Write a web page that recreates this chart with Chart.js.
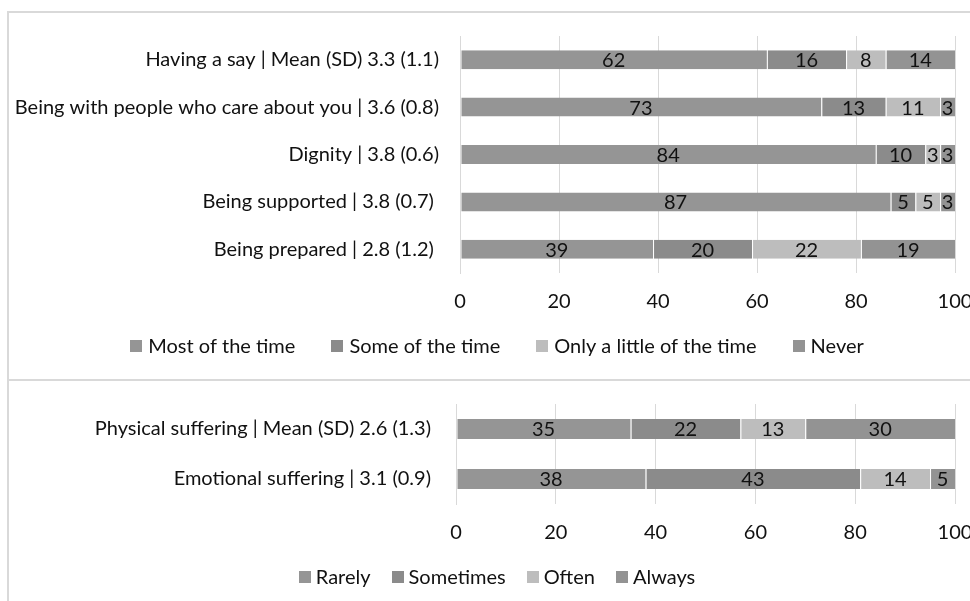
<!DOCTYPE html>
<html><head><meta charset="utf-8">
<script src="https://cdn.jsdelivr.net/npm/chart.js@4.4.1/dist/chart.umd.min.js"></script>
<style>
html,body{margin:0;padding:0;background:#fff;width:970px;height:601px;overflow:hidden;}
#box1{position:absolute;left:7px;top:11px;width:963px;height:368px;border-top:2px solid #d9d9d9;border-left:2px solid #d9d9d9;box-sizing:border-box;}
#box2{position:absolute;left:7px;top:379px;width:963px;height:222px;border-top:2px solid #d9d9d9;border-left:2px solid #d9d9d9;box-sizing:border-box;}
#c1,#c2{display:block;}
</style>
</head><body>
<div id="box1"><canvas id="c1"></canvas></div>
<div id="box2"><canvas id="c2"></canvas></div>
<script>
// ---- data ----
const topCategories = [
  'Having a say | Mean (SD) 3.3 (1.1)',
  'Being with people who care about you | 3.6 (0.8)',
  'Dignity | 3.8 (0.6)',
  'Being supported | 3.8 (0.7) ',
  'Being prepared | 2.8 (1.2) '
];
const topSeriesNames = ['Most of the time', 'Some of the time', 'Only a little of the time', 'Never'];
const mostOfTheTime = [62, 73, 84, 87, 39];
const someOfTheTime = [16, 13, 10, 5, 20];
const onlyALittle   = [8, 11, 3, 5, 22];
const never         = [14, 3, 3, 3, 19];

const bottomCategories = [
  'Physical suffering | Mean (SD) 2.6 (1.3)',
  'Emotional suffering | 3.1 (0.9)'
];
const bottomSeriesNames = ['Rarely', 'Sometimes', 'Often', 'Always'];
const rarely    = [35, 38];
const sometimes = [22, 43];
const often     = [13, 14];
const always    = [30, 5];

const xTicks = [0, 20, 40, 60, 80, 100];

// ---- styling ----
const FONT = 'Lato';
const FS = 20;
const TEXT = '#111111';
const GRID = '#d9d9d9';
const colors = ['#959595', '#8b8b8b', '#bdbdbd', '#939393'];

Chart.defaults.font.family = FONT;
Chart.defaults.font.size = FS;
Chart.defaults.color = TEXT;
Chart.defaults.animation = false;

function zeroPad(scale) {
  scale.paddingTop = 0; scale.paddingBottom = 0;
  scale.paddingLeft = 0; scale.paddingRight = 0;
}

const dataLabelPlugin = {
  id: 'segLabels',
  afterDatasetsDraw(chart) {
    const ctx = chart.ctx;
    ctx.save();
    ctx.font = FS + 'px ' + FONT;
    ctx.fillStyle = TEXT;
    ctx.textAlign = 'center';
    ctx.textBaseline = 'middle';
    chart.data.datasets.forEach((ds, di) => {
      const meta = chart.getDatasetMeta(di);
      meta.data.forEach((bar, i) => {
        const v = ds.data[i];
        const cx = (bar.x + bar.base) / 2;
        ctx.fillText(String(v), cx, bar.y + 1);
      });
    });
    ctx.restore();
  }
};

function legendPlugin(cfg) {
  return {
    id: 'customLegend',
    afterDraw(chart) {
      const ctx = chart.ctx;
      ctx.save();
      ctx.font = FS + 'px ' + FONT;
      ctx.textBaseline = 'middle';
      ctx.textAlign = 'left';
      const items = chart.data.datasets.map(ds => ({
        text: ds.label, color: ds.backgroundColor,
        w: cfg.box + cfg.boxGap + ctx.measureText(ds.label).width
      }));
      const total = items.reduce((s, it) => s + it.w, 0) + cfg.itemGap * (items.length - 1);
      let x = cfg.centerX - total / 2;
      items.forEach(it => {
        ctx.fillStyle = it.color;
        ctx.fillRect(Math.round(x), Math.round(cfg.y - cfg.box / 2), cfg.box, cfg.box);
        ctx.fillStyle = TEXT;
        ctx.fillText(it.text, x + cfg.box + cfg.boxGap, cfg.y + 1);
        x += it.w + cfg.itemGap;
      });
      ctx.restore();
    }
  };
}

function makeChart(id, w, h, cats, names, series, opt) {
  const canvas = document.getElementById(id);
  canvas.width = w; canvas.height = h;
  canvas.style.width = w + 'px'; canvas.style.height = h + 'px';
  return new Chart(canvas, {
    type: 'bar',
    data: {
      labels: cats,
      datasets: series.map((d, i) => ({
        label: names[i],
        data: d,
        backgroundColor: colors[i],
        borderColor: 'rgba(255,255,255,0.18)',
        borderWidth: {left: 1, right: 0, top: 0, bottom: 0},
        borderSkipped: false,
        barPercentage: 0.4,
        categoryPercentage: 1.0
      }))
    },
    options: {
      indexAxis: 'y',
      responsive: false,
      maintainAspectRatio: false,
      devicePixelRatio: 1,
      layout: { padding: { top: opt.padTop, right: opt.padRight, bottom: opt.padBottom, left: 0 } },
      plugins: { legend: { display: false }, tooltip: { enabled: false } },
      scales: {
        x: {
          stacked: true,
          min: 0, max: 100,
          afterBuildTicks(scale) { scale.ticks = xTicks.map(v => ({ value: v })); },
          afterFit(scale) { scale.height = opt.xH; zeroPad(scale); },
          grid: { color: GRID, lineWidth: 1, drawTicks: false },
          border: { display: false },
          ticks: { padding: opt.xPad, color: TEXT, maxRotation: 0, font: { size: FS, family: FONT } }
        },
        y: {
          stacked: true,
          grid: { display: false, drawTicks: false },
          border: { display: true, color: GRID, width: 1 },
          afterFit(scale) { scale.width = opt.yWidth; zeroPad(scale); },
          ticks: { padding: opt.yPad, color: TEXT, font: { size: FS, family: FONT } }
        }
      }
    },
    plugins: [dataLabelPlugin, legendPlugin(opt.legend)]
  });
}

makeChart('c1', 961, 366, topCategories, topSeriesNames,
  [mostOfTheTime, someOfTheTime, onlyALittle, never],
  { padTop: 23, padRight: 15, padBottom: 67, xH: 39, xPad: 17, yWidth: 451, yPad: 21,
    legend: { centerX: 488, y: 333, box: 12, boxGap: 6, itemGap: 36 } });

makeChart('c2', 961, 220, bottomCategories, bottomSeriesNames,
  [rarely, sometimes, often, always],
  { padTop: 23, padRight: 15, padBottom: 56, xH: 41, xPad: 17, yWidth: 447, yPad: 25,
    legend: { centerX: 488, y: 196, box: 12, boxGap: 5, itemGap: 21 } });
</script>
</body></html>
